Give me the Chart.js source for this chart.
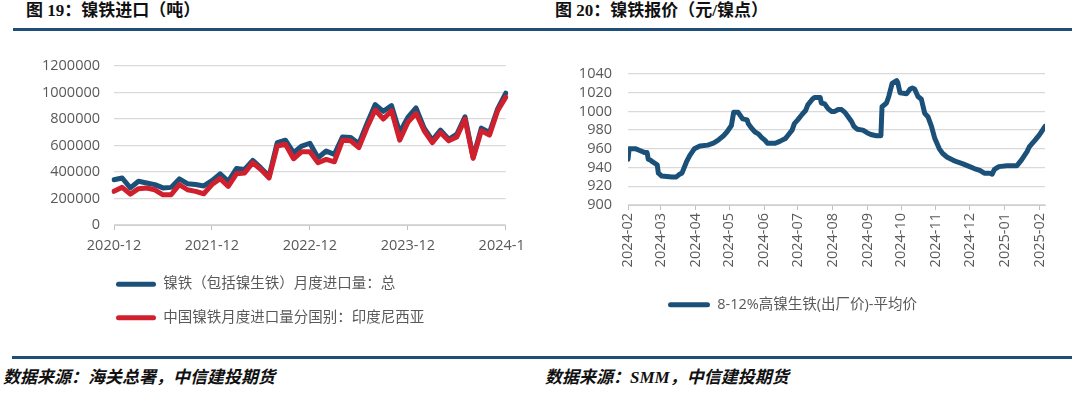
<!DOCTYPE html>
<html>
<head>
<meta charset="utf-8">
<script src="https://cdn.jsdelivr.net/npm/chart.js@4.4.1/dist/chart.umd.min.js"></script>
<style>
  body { margin: 0; width: 1080px; height: 396px; background: #fff; position: relative; overflow: hidden; }
  .title { position: absolute; top: 0; font: bold 17px "Liberation Serif", "Noto Sans CJK SC", serif; color: #111; line-height: 22px; white-space: nowrap; }
  .rule { position: absolute; height: 3px; background: #1f4e79; }
  .src { position: absolute; top: 367px; font: italic bold 17px "Liberation Serif", "Noto Sans CJK SC", serif; color: #111; line-height: 22px; white-space: nowrap; }
  #leftBox { position: absolute; left: 0; top: 40px; width: 522px; height: 300px; overflow: hidden; }
  #rightBox { position: absolute; left: 540px; top: 40px; width: 520px; height: 300px; }
</style>
</head>
<body>
<div class="title" style="left:26px">图 19：镍铁进口（吨）</div>
<div class="title" style="left:555px">图 20：镍铁报价（元/镍点）</div>
<div class="rule" style="left:13px; top:28px; width:1059px"></div>

<div id="leftBox"><canvas id="importChart" width="540" height="300"></canvas></div>
<div id="rightBox"><canvas id="priceChart" width="520" height="300"></canvas></div>

<div class="rule" style="left:12px; top:356px; width:1060px"></div>
<div class="src" style="left:3px">数据来源：海关总署，中信建投期货</div>
<div class="src" style="left:545px">数据来源：SMM，中信建投期货</div>

<script>
// ---- left: monthly imports (tons)
const importMonths = [
  '2020-12',
  '2021-01','2021-02','2021-03','2021-04','2021-05','2021-06','2021-07','2021-08','2021-09','2021-10','2021-11','2021-12',
  '2022-01','2022-02','2022-03','2022-04','2022-05','2022-06','2022-07','2022-08','2022-09','2022-10','2022-11','2022-12',
  '2023-01','2023-02','2023-03','2023-04','2023-05','2023-06','2023-07','2023-08','2023-09','2023-10','2023-11','2023-12',
  '2024-01','2024-02','2024-03','2024-04','2024-05','2024-06','2024-07','2024-08','2024-09','2024-10','2024-11','2024-12'
];
const totalImports = [
  342000,
  355000, 280000, 330000, 317000, 305000, 280000, 284000, 348000, 312000, 305000, 295000, 335000,
  386000, 330000, 426000, 419000, 487000, 431000, 368000, 622000, 640000, 546000, 596000, 617000,
  508000, 558000, 533000, 665000, 660000, 614000, 767000, 909000, 858000, 901000, 698000, 812000,
  883000, 731000, 640000, 716000, 647000, 685000, 817000, 510000, 731000, 698000, 876000, 995000
];
const indonesiaImports = [
  254000,
  284000, 233000, 274000, 279000, 266000, 228000, 228000, 305000, 266000, 254000, 236000, 305000,
  350000, 292000, 386000, 393000, 470000, 419000, 355000, 596000, 609000, 500000, 553000, 553000,
  470000, 495000, 477000, 640000, 635000, 584000, 736000, 868000, 800000, 863000, 640000, 774000,
  843000, 711000, 622000, 698000, 635000, 665000, 800000, 503000, 711000, 678000, 863000, 965000
];
const importNames = ['镍铁（包括镍生铁）月度进口量：总', '中国镍铁月度进口量分国别：印度尼西亚'];

// ---- right: 8-12% NPI price
const priceDates = [
  '2024-02-01','2024-02-02','2024-02-08','2024-02-12','2024-02-16','2024-02-18','2024-02-19','2024-02-21','2024-02-23','2024-02-27',
  '2024-02-28','2024-03-02','2024-03-11','2024-03-15','2024-03-18','2024-03-20','2024-03-24','2024-03-27','2024-03-31','2024-04-05',
  '2024-04-12','2024-04-17','2024-04-21','2024-04-26','2024-04-29','2024-05-03','2024-05-05','2024-05-09','2024-05-13','2024-05-17',
  '2024-05-18','2024-05-21','2024-05-24','2024-05-27','2024-05-30','2024-06-02','2024-06-04','2024-06-08','2024-06-11','2024-06-15',
  '2024-06-20','2024-06-22','2024-06-26','2024-06-28','2024-07-01','2024-07-05','2024-07-08','2024-07-10','2024-07-14','2024-07-16',
  '2024-07-21','2024-07-22','2024-07-25','2024-07-28','2024-07-31','2024-08-03','2024-08-06','2024-08-09','2024-08-12','2024-08-15',
  '2024-08-18','2024-08-20','2024-08-23','2024-08-28','2024-09-01','2024-09-05','2024-09-09','2024-09-13','2024-09-14','2024-09-18',
  '2024-09-20','2024-09-23','2024-09-27','2024-09-28','2024-09-30','2024-10-06','2024-10-09','2024-10-11','2024-10-13','2024-10-16',
  '2024-10-19','2024-10-22','2024-10-25','2024-10-28','2024-10-31','2024-11-04','2024-11-07','2024-11-11','2024-11-16','2024-11-20',
  '2024-11-25','2024-12-01','2024-12-05','2024-12-10','2024-12-14','2024-12-19','2024-12-21','2024-12-23','2024-12-27','2025-01-03',
  '2025-01-12','2025-01-14','2025-01-16','2025-01-21','2025-01-23','2025-01-28','2025-02-01','2025-02-06'
];
const prices = [
  949, 960, 960, 958, 956, 956, 949, 948, 946, 943,
  934, 931, 930, 930, 933, 934, 946, 953, 960, 963,
  964, 966, 969, 974, 978, 985, 999, 999, 992, 991,
  987, 982, 978, 976, 972, 969, 966, 966, 966, 968,
  971, 974, 980, 987, 991, 997, 1001, 1007, 1013, 1015,
  1015, 1009, 1008, 1003, 1000, 1000, 1002, 1002, 999, 994,
  989, 984, 981, 980, 977, 975, 974, 974, 1005, 1009,
  1016, 1030, 1033, 1031, 1020, 1019, 1024, 1025, 1024, 1016,
  1013, 998, 994, 984, 971, 960, 955, 951, 948, 946,
  944, 941, 939, 937, 934, 934, 933, 938, 941, 942,
  942, 945, 948, 957, 962, 969, 975, 984
];
const priceMonths = ['2024-02','2024-03','2024-04','2024-05','2024-06','2024-07','2024-08','2024-09','2024-10','2024-11','2024-12','2025-01','2025-02'];
const priceName = '8-12%高镍生铁(出厂价)-平均价';

const BLUE = '#1b5079';
const RED = '#d0202e';
const GREY = '#595959';
const FONT = { family: "'Open Sans', 'Noto Sans CJK SC', sans-serif", size: 14.5 };

// day offset from 2024-02-01
const dayOf = s => {
  const p = s.split('-').map(Number);
  return (Date.UTC(p[0], p[1] - 1, p[2] || 1) - Date.UTC(2024, 1, 1)) / 86400000;
};

const lineLegend = chart =>
  Chart.defaults.plugins.legend.labels.generateLabels(chart)
    .map(l => ({ ...l, fillStyle: l.strokeStyle, lineWidth: 0, borderRadius: 2.5 }));

// nudge the legend box sideways
const shiftLegend = {
  id: 'shiftLegend',
  afterLayout(chart, args, opts) {
    if (!opts.dx) return;
    chart.legend.left += opts.dx;
    chart.legend.right += opts.dx;
  }
};

new Chart(document.getElementById('importChart'), {
  type: 'line',
  data: {
    labels: importMonths,
    datasets: [
      { label: importNames[0], data: totalImports, borderColor: BLUE, backgroundColor: BLUE, order: 1 },
      { label: importNames[1], data: indonesiaImports, borderColor: RED, backgroundColor: RED, order: 0 }
    ]
  },
  options: {
    responsive: false,
    animation: false,
    layout: { padding: { top: 26, right: 33, bottom: 5, left: 0 } },
    elements: {
      point: { radius: 0 },
      line: { borderWidth: 5, tension: 0, borderJoinStyle: 'round', borderCapStyle: 'round' }
    },
    scales: {
      x: {
        ticks: { autoSkip: false, maxRotation: 0, padding: 7, color: GREY, font: FONT },
        grid: { drawOnChartArea: false, tickLength: 5, tickColor: '#bfbfbf' },
        border: { color: '#d0d0d0' },
        afterBuildTicks: s => { s.ticks = s.ticks.filter(t => t.value % 12 === 0); },
        afterFit: s => { s.height = 33; }
      },
      y: {
        min: 0, max: 1200000,
        ticks: { stepSize: 200000, autoSkip: false, padding: 14, color: GREY, font: FONT, callback: v => String(v) },
        grid: { color: '#d9d9d9', lineWidth: 1.3, drawTicks: false },
        border: { display: false },
        afterFit: s => { s.width = 114; }
      }
    },
    plugins: {
      legend: {
        position: 'bottom', align: 'start', fullSize: false,
        labels: {
          boxWidth: 40, boxHeight: 5, padding: 19, color: GREY, font: FONT,
          useBorderRadius: true,
          sort: (a, b) => a.datasetIndex - b.datasetIndex,
          generateLabels: lineLegend
        }
      },
      shiftLegend: { dx: -17 },
      tooltip: { enabled: false }
    }
  },
  plugins: [shiftLegend]
});

const monthDays = priceMonths.map(dayOf);
new Chart(document.getElementById('priceChart'), {
  type: 'line',
  data: {
    datasets: [{
      label: priceName,
      data: priceDates.map((d, i) => ({ x: dayOf(d), y: prices[i] })),
      borderColor: BLUE, backgroundColor: BLUE
    }]
  },
  options: {
    responsive: false,
    animation: false,
    layout: { padding: { top: 34, right: 15, bottom: 18, left: 0 } },
    elements: {
      point: { radius: 0 },
      line: { borderWidth: 5, tension: 0, borderJoinStyle: 'round', borderCapStyle: 'round' }
    },
    scales: {
      x: {
        type: 'linear',
        min: 0, max: dayOf(priceDates[priceDates.length - 1]),
        ticks: {
          autoSkip: false, minRotation: 90, maxRotation: 90, padding: 3, color: GREY, font: FONT,
          callback: v => priceMonths[monthDays.indexOf(v)] || ''
        },
        grid: { drawOnChartArea: false, tickLength: 5, tickColor: '#bfbfbf' },
        border: { color: '#d0d0d0' },
        afterBuildTicks: s => { s.ticks = monthDays.map(v => ({ value: v })); },
        afterFit: s => { s.height = 82.5; }
      },
      y: {
        min: 900, max: 1040,
        ticks: { stepSize: 20, autoSkip: false, padding: 16, color: GREY, font: FONT, callback: v => String(v) },
        grid: { color: '#d9d9d9', lineWidth: 1.3, drawTicks: false },
        border: { display: false },
        afterFit: s => { s.width = 88; }
      }
    },
    plugins: {
      legend: {
        position: 'bottom',
        labels: {
          boxWidth: 42, boxHeight: 5, padding: 10, color: GREY,
          font: { family: FONT.family, size: 14.5 },
          useBorderRadius: true,
          generateLabels: lineLegend
        }
      },
      tooltip: { enabled: false }
    }
  }
});
</script>
</body>
</html>
